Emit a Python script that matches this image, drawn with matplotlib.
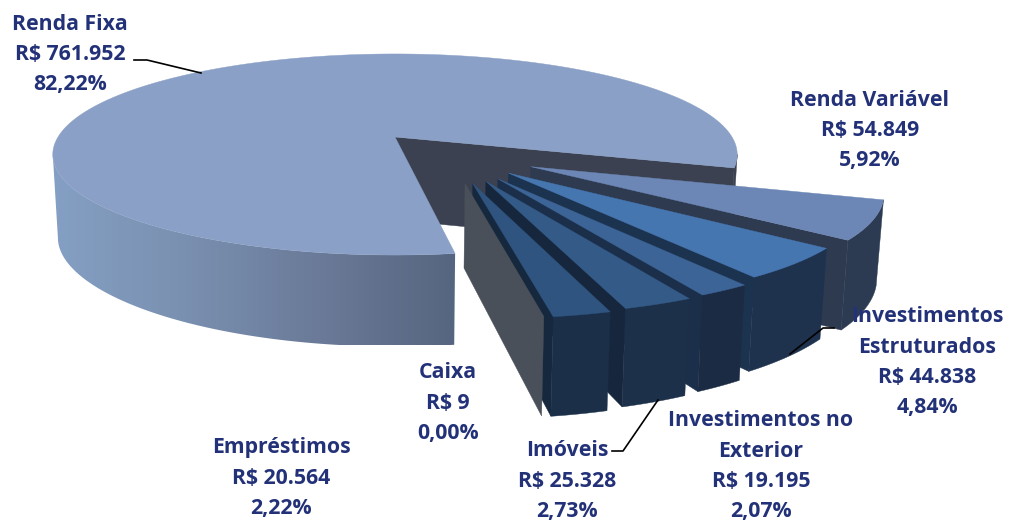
import numpy as np
import matplotlib
matplotlib.use("Agg")
import matplotlib.pyplot as plt
from matplotlib.colors import LinearSegmentedColormap
from matplotlib.patches import Polygon

#data, clockwise starting at Renda Variavel
names = ["Renda Variável", "Investimentos\nEstruturados", "Investimentos no\nExterior", "Imóveis", "Empréstimos", "Caixa", "Renda Fixa"]
values = [54849, 44838, 19195, 25328, 20564, 9, 761952]
shares = [5.92, 4.84, 2.07, 2.73, 2.22, 0.00, 82.22]

#styles per slice
top_colors = ["#6C87B6", "#4676B0", "#3C6496", "#345A88", "#2F5480", "#4A5059", "#8AA0C6"]
side_colors = ["#2D3B52", "#1E324E", "#1B2B44", "#1C3049", "#1B2F49", "#4A5059", "#3B4150"]
wall_colors = ["#2D3A50", "#1C3350", "#1B2F4A", "#16263C", "#16283E", "#4A5059", "#3B4150"]
explode = [0.48, 0.47, 0.49, 0.49, 0.49, 0.48, 0.0]

#label centres in pixels, one per slice
label_x = [870, 927, 761, 567, 281, 448, 70]
label_y = [100, 317, 421, 451, 448, 373, 24]

text_color = "#233278"
start_angle = 17.5

#perspective of the pie: centre, radii and tilt
cx, cy, rx, ry, k = 395.0, 137.0, 337.0, 97.5, 0.174
big_r, fan_r = 1.0, 0.965


def project(u, v, low=False):
    w = 1 - k * v
    x = rx * u / w
    y = cy + ry * v / w
    if low:
        x = x * 0.985
        y = y + 83 + 8.5 * v ** 2
    return cx + x, y


def ring(phi, ox, oy, r, low=False):
    a = np.radians(phi)
    return np.column_stack(project(r * np.cos(a) + ox, r * np.sin(a) + oy, low))


def rim(phi, ox, oy, r):
    return np.vstack([ring(phi, ox, oy, r), ring(phi, ox, oy, r, True)[::-1]])


def cut_wall(angle, ox, oy, r):
    e = np.radians(angle)
    u, v = r * np.cos(e) + ox, r * np.sin(e) + oy
    return np.array([project(ox, oy), project(u, v), project(u, v, True), project(ox, oy, True)])


def top_face(a0, a1, ox, oy, r):
    return np.vstack([np.array(project(ox, oy)), ring(np.linspace(a0, a1, 300), ox, oy, r)])


fig = plt.figure(figsize=(10.10, 5.21), dpi=100)
ax = fig.add_axes([0, 0, 1, 1])
ax.axis("off")

#slice angles come from the shares
spans = np.array(shares) * 3.6
ends = start_angle + np.cumsum(spans)
starts = ends - spans

#big slice: cut wall and right rim sit behind the fan
big = len(values) - 1
ax.fill(*cut_wall(ends[big], 0, 0, big_r).T, color=wall_colors[big], lw=0.3, zorder=1)
ax.fill(*rim(np.linspace(370, ends[big], 12), 0, 0, big_r).T, color=side_colors[big], lw=0.3, zorder=1)

#the fan, far slice first
for i in range(big):
    mid = (starts[i] + ends[i]) / 2
    d = np.radians(48 + 0.55 * (mid - 48))
    ox, oy = explode[i] * np.cos(d), explode[i] * np.sin(d)
    ax.fill(*cut_wall(ends[i], ox, oy, fan_r).T, color=wall_colors[i], lw=0.3, zorder=1)
    if spans[i] > 0:
        ax.fill(*rim(np.linspace(starts[i], ends[i], 60), ox, oy, fan_r).T, color=side_colors[i], lw=0.3, zorder=1)
        ax.fill(*top_face(starts[i], ends[i], ox, oy, fan_r).T, color=top_colors[i], lw=0.3, zorder=1)

#front rim of the big slice with its left to right shading, stops where the outline turns back
shade = LinearSegmentedColormap.from_list("shade", ["#84A0C4", "#7A90B0", "#6A7A98", "#56657F"])
img = ax.imshow(np.linspace(0, 1, 256)[None, :], cmap=shade, extent=[50, 456, 345, 150], aspect="auto", zorder=2)
front = Polygon(rim(np.linspace(starts[big], 170, 200), 0, 0, big_r), closed=True, transform=ax.transData, fc="none", ec="none")
ax.add_patch(front)
img.set_clip_path(front)

ax.fill(*top_face(starts[big], ends[big], 0, 0, big_r).T, color=top_colors[big], lw=0.3, zorder=3)

ax.set_xlim(0, 1010)
ax.set_ylim(521, 0)

#leader lines
ax.plot([134, 147, 201], [60, 60, 73], color="black", lw=1.2, zorder=6)
ax.plot([834, 823, 790], [328, 328, 354], color="black", lw=1.2, zorder=6)
ax.plot([612, 623, 658], [451, 451, 400], color="black", lw=1.2, zorder=6)

#labels
for i in range(len(names)):
    money = f"R$ {values[i]:,}".replace(",", ".")
    pct = f"{shares[i]:.2f}%".replace(".", ",")
    lines = names[i].split("\n") + [money, pct]
    for j, line in enumerate(lines):
        ax.text(label_x[i], label_y[i] + j * 30.2, line, ha="center", va="center", color=text_color,
                fontsize=15.3, fontweight="bold", family="Open Sans", zorder=7)

fig.savefig("out.png", dpi=100)
